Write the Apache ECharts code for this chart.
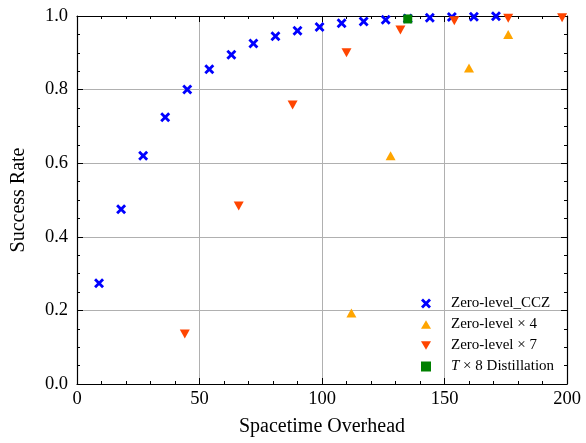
<!DOCTYPE html>
<html>
<head>
<meta charset="utf-8">
<script src="https://cdn.jsdelivr.net/npm/echarts@6/dist/echarts.min.js"></script>
<style>
  html, body { margin: 0; padding: 0; background: #fff; }
  #chart { width: 586px; height: 443px; }
</style>
</head>
<body>
<div id="chart"></div>
<script>
// data
const cczX = [9, 18, 27, 36, 45, 54, 63, 72, 81, 90, 99, 108, 117, 126, 135, 144, 153, 162, 171]
const cczY = [0.274, 0.475, 0.62, 0.725, 0.80, 0.855, 0.895, 0.925, 0.945, 0.96, 0.97, 0.98, 0.985, 0.99, 0.993, 0.995, 0.997, 0.998, 0.999]

const x4X = [112, 128, 160, 176]
const x4Y = [0.193, 0.62, 0.859, 0.95]

const x7X = [44, 66, 88, 110, 132, 154, 176, 198]
const x7Y = [0.136, 0.484, 0.758, 0.90, 0.962, 0.987, 0.994, 0.995]

const distX = [135]
const distY = [0.992]

const seriesNames = ['Zero-level_CCZ', 'Zero-level × 4', 'Zero-level × 7', 'T × 8 Distillation']
const xTicks = [0, 50, 100, 150, 200]
const yTicks = [0.0, 0.2, 0.4, 0.6, 0.8, 1.0]

const FONT = '"Liberation Serif", "DejaVu Serif", serif'
const cross = 'path://M2,0 L5,3 L8,0 L10,2 L7,5 L10,8 L8,10 L5,7 L2,10 L0,8 L3,5 L0,2 Z'
const triUp = 'path://M5,0 L10,8.66 L0,8.66 Z'
const triDown = 'path://M0,0 L10,0 L5,8.66 Z'

const pairs = (xs, ys) => xs.map((x, i) => [x, ys[i]])

const axisCommon = {
  axisLine: { show: true, onZero: false, lineStyle: { color: '#000', width: 1.2 } },
  axisTick: { show: true, inside: true, length: 6, lineStyle: { color: '#000', width: 1 } },
  minorTick: { show: true, splitNumber: 5, length: 3, lineStyle: { color: '#000', width: 1 } }
}

const chart = echarts.init(document.getElementById('chart'))

chart.setOption({
  animation: false,
  backgroundColor: '#fff',
  grid: { left: 77, right: 19, top: 16, bottom: 59, containLabel: false },
  xAxis: [
    {
      type: 'value', min: xTicks[0], max: xTicks[xTicks.length - 1], interval: 50,
      position: 'bottom',
      ...axisCommon,
      axisLabel: { color: '#000', fontFamily: FONT, fontSize: 18.5, margin: 6 },
      splitLine: { show: true, lineStyle: { color: '#b0b0b0', width: 1 } },
      name: 'Spacetime Overhead', nameLocation: 'middle', nameGap: 33,
      nameTextStyle: { color: '#000', fontFamily: FONT, fontSize: 20 }
    },
    {
      type: 'value', min: 0, max: 200, interval: 50, position: 'top',
      ...axisCommon,
      axisLabel: { show: false }, splitLine: { show: false }
    }
  ],
  yAxis: [
    {
      type: 'value', min: yTicks[0], max: yTicks[yTicks.length - 1], interval: 0.2,
      position: 'left',
      ...axisCommon,
      minorTick: { ...axisCommon.minorTick, splitNumber: 4 },
      axisLabel: { color: '#000', fontFamily: FONT, fontSize: 18.5, margin: 9, formatter: v => v.toFixed(1) },
      splitLine: { show: true, lineStyle: { color: '#b0b0b0', width: 1 } },
      name: 'Success Rate', nameLocation: 'middle', nameGap: 48,
      nameTextStyle: { color: '#000', fontFamily: FONT, fontSize: 20 }
    },
    {
      type: 'value', min: 0, max: 1, interval: 0.2, position: 'right',
      ...axisCommon,
      minorTick: { ...axisCommon.minorTick, splitNumber: 4 },
      axisLabel: { show: false }, splitLine: { show: false }
    }
  ],
  legend: {
    orient: 'vertical',
    left: 416,
    top: 291,
    itemWidth: 10,
    itemHeight: 10,
    itemGap: 6,
    textStyle: {
      color: '#000', fontFamily: FONT, fontSize: 15, lineHeight: 15, padding: [0, 0, 0, 15],
      rich: { i: { fontStyle: 'italic', fontFamily: FONT, fontSize: 15 } }
    },
    formatter: name => name.startsWith('T ') ? '{i|T}' + name.slice(1) : name,
    data: seriesNames
  },
  series: [
    {
      name: seriesNames[0], type: 'scatter', data: pairs(cczX, cczY),
      symbol: cross, symbolSize: 10, symbolKeepAspect: true,
      itemStyle: { color: '#0000ff', opacity: 1 }, z: 2
    },
    {
      name: seriesNames[1], type: 'scatter', data: pairs(x4X, x4Y),
      symbol: triUp, symbolSize: [10, 9],
      itemStyle: { color: '#ffa500', opacity: 1 }, z: 3
    },
    {
      name: seriesNames[2], type: 'scatter', data: pairs(x7X, x7Y),
      symbol: triDown, symbolSize: [10, 9],
      itemStyle: { color: '#ff4500', opacity: 1 }, z: 4
    },
    {
      name: seriesNames[3], type: 'scatter', data: pairs(distX, distY),
      symbol: 'rect', symbolSize: 9,
      itemStyle: { color: '#008000', opacity: 1 }, z: 5
    }
  ]
})
</script>
</body>
</html>
